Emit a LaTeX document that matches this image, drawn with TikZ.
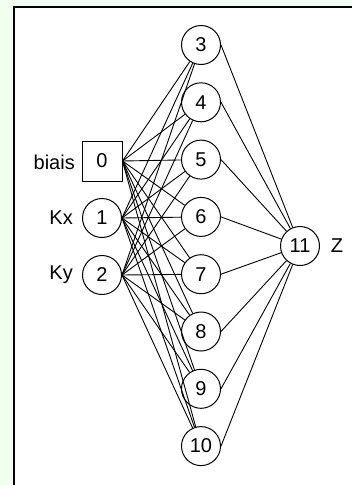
\documentclass[tikz,border=0pt]{standalone}
\usepackage{fontspec}
\setmainfont{Liberation Sans}
\definecolor{panelbg}{RGB}{240,255,240}
\begin{document}
\begin{tikzpicture}[x=1pt,y=-1pt,
  neuron/.style={circle, draw, minimum size=39pt, inner sep=0pt, line width=1pt, font=\fontsize{20}{20}\selectfont},
  biasbox/.style={rectangle, draw, minimum size=40pt, inner sep=0pt, line width=1pt, font=\fontsize{20}{20}\selectfont},
  lbl/.style={font=\fontsize{20}{20}\selectfont, inner sep=0pt},
  link/.style={line width=0.9pt}]
\useasboundingbox (0,0) rectangle (352,485);
\fill[panelbg] (0,0) rectangle (352,485);
\fill[white] (14,7) rectangle (352,485);
\draw[line width=2pt] (14,485) -- (14,7) -- (352,7);
% input layer
\node[biasbox] (n0) at (102,161) {0};
\node[neuron] (n1) at (102,218) {1};
\node[neuron] (n2) at (102,275) {2};
\node[lbl, anchor=east] (l0) at (75,162) {biais};
\node[lbl, anchor=east] (l1) at (73,218) {Kx};
\node[lbl, anchor=east] (l2) at (73,275) {Ky};
% hidden layer
\foreach \i [evaluate=\i as \yy using {45+57.3*(\i-3)}] in {3,...,10} {
  \node[neuron] (n\i) at (201,\yy) {\i};
}
% output
\node[neuron] (n11) at (300,246) {11};
\node[lbl] (lz) at (337,246) {Z};
% connections
\foreach \i in {3,...,10} {
  \foreach \j in {0,1,2} {
    \draw[link] (n\j.east) -- (n\i);
  }
  \draw[link] (n\i.east) -- (n11);
}
\end{tikzpicture}
\end{document}
